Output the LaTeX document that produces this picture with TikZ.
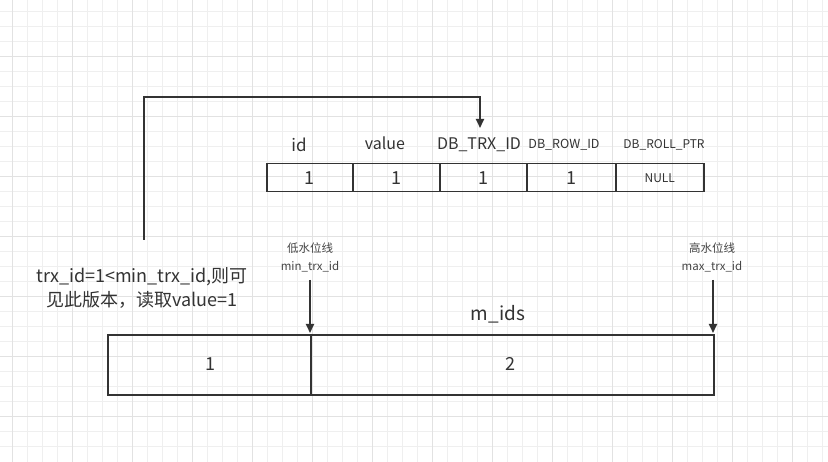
\documentclass[tikz,border=0pt]{standalone}
\usepackage{fontspec}
\setmainfont{Noto Sans CJK SC}
\usetikzlibrary{arrows.meta}
\definecolor{ink}{HTML}{333333}
\definecolor{gridminor}{HTML}{EFEFEF}
\definecolor{gridmajor}{HTML}{E2E2E2}
\definecolor{lbl}{HTML}{444444}
\begin{document}
\begin{tikzpicture}[x=1pt,y=-1pt,
  cellbox/.style={draw=ink,line width=1.5pt,minimum height=28pt,inner sep=0pt,anchor=north west,text=ink},
  bigtxt/.style={font=\fontsize{16}{18}\selectfont,text=ink},
  valtxt/.style={font=\fontsize{18}{20}\selectfont,text=ink},
  smalltxt/.style={font=\fontsize{11.5}{18}\selectfont,text=lbl},
  conn/.style={draw=ink,line width=2pt,-{Triangle[length=9pt,width=8pt]}}]
\useasboundingbox (0,0) rectangle (828,462);
\fill[white] (0,0) rectangle (828,462);
% grid
\foreach \x in {12,27,...,822} \draw[gridminor,line width=0.8pt] (\x,0) -- (\x,462);
\foreach \y in {11.7,26.7,...,460} \draw[gridminor,line width=0.8pt] (0,\y) -- (828,\y);
\foreach \x in {12,72,...,822} \draw[gridmajor,line width=0.8pt] (\x,0) -- (\x,462);
\foreach \y in {56.7,116.7,...,460} \draw[gridmajor,line width=0.8pt] (0,\y) -- (828,\y);
% top table
\node[cellbox,minimum width=86pt,valtxt] (c1) at (266,163) {1};
\node[cellbox,minimum width=87pt,valtxt] (c2) at (352,163) {1};
\node[cellbox,minimum width=87pt,valtxt] (c3) at (439,163) {1};
\node[cellbox,minimum width=89pt,valtxt] (c4) at (526,163) {1};
\node[cellbox,minimum width=88pt,font=\fontsize{12}{14}\selectfont] (c5) at (615,163) {NULL};
\node[font=\fontsize{17}{18}\selectfont,text=ink] (h1) at (299,145) {id};
\node[bigtxt] (h2) at (385,143) {value};
\node[bigtxt] (h3) at (479,145) {DB\_TRX\_ID};
\node[font=\fontsize{12.5}{14}\selectfont,text=ink] (h4) at (564,145) {DB\_ROW\_ID};
\node[font=\fontsize{12}{14}\selectfont,text=ink] (h5) at (664,145) {DB\_ROLL\_PTR};
% left text
\node[align=center,font=\fontsize{18}{24}\selectfont,text=ink] (note) at (142,288) {trx\_id=1<min\_trx\_id,则可\\见此版本，读取value=1};
\coordinate (start) at (144,240);
\coordinate (tip) at (480,128);
\draw[conn] (start) -- (144,97) -- (480,97) -- (tip);
% water marks
\node[smalltxt,align=center] (low) at (310,257) {低水位线\\min\_trx\_id};
\node[smalltxt,align=center] (high) at (712,257) {高水位线\\max\_trx\_id};
% bottom box
\node[draw=ink,line width=2pt,minimum width=606pt,minimum height=60pt,anchor=north west,inner sep=0pt] (mids) at (107,334) {};
\draw[ink,line width=2pt] (311,334) -- (311,394);
\node[valtxt] (v1) at (210,364) {1};
\node[valtxt] (v2) at (510,364) {2};
\node[font=\fontsize{19}{20}\selectfont,text=ink] (mlabel) at (498,314) {m\_ids};
\draw[conn] (310,280) -- (310,333);
\draw[conn] (713,280) -- (713,333);
\end{tikzpicture}
\end{document}
